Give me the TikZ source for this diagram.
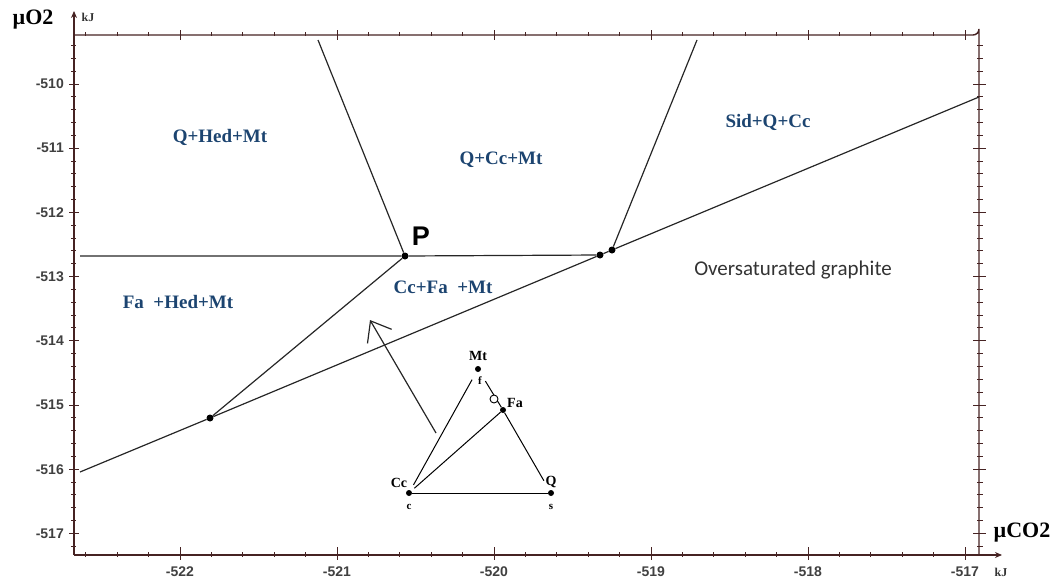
\documentclass[tikz,border=0pt]{standalone}
\usepackage{fontspec}
\setmainfont{Liberation Serif}
\newfontfamily\ticksfont{Liberation Sans}
\newfontfamily\notefont{Carlito}
\usepackage{tikz}
\usetikzlibrary{arrows.meta}
\usetikzlibrary{calc}

\definecolor{framecol}{RGB}{70,35,35}
\definecolor{fieldcol}{RGB}{28,68,112}

\tikzset{
  frameline/.style={line width=1.4pt, framecol},
  tickline/.style={line width=1pt, framecol},
  ticklabel/.style={font=\ticksfont\fontsize{14}{14}\selectfont\bfseries, text=black!75, inner sep=0pt},
  axislabel/.style={font=\fontsize{22}{22}\selectfont\bfseries, inner sep=0pt},
  unitlabel/.style={font=\fontsize{12}{12}\selectfont\bfseries, text=black!80, inner sep=0pt},
  boundary/.style={line width=1.2pt, black!85},
  junction/.style={circle, fill=black, inner sep=0pt, minimum size=7pt},
  fieldlabel/.style={font=\fontsize{19}{19}\selectfont\bfseries, text=fieldcol, inner sep=0pt},
  cornerdot/.style={circle, fill=black, inner sep=0pt, minimum size=6pt},
  cornerlabel/.style={font=\fontsize{14}{14}\selectfont\bfseries, inner sep=0pt},
  sublabel/.style={font=\fontsize{11}{11}\selectfont\bfseries, inner sep=0pt},
}

\begin{document}
\begin{tikzpicture}[x=1pt, y=-1pt]
    \useasboundingbox (0,0) rectangle (1061,581);

    % === Parametri degli assi (pixel) ===
    \def\xzero{180}   % ascissa di -522 kJ
    \def\xstep{157}   % pixel per kJ (muCO2)
    \def\yzero{84}    % ordinata di -510 kJ
    \def\ystep{64.2}  % pixel per kJ (muO2)

    % === 1. Cornice e assi ===
    \draw[frameline, -{Stealth[length=7pt, width=6pt]}] (74,555) -- (74,11);
    \draw[frameline, -{Stealth[length=7pt, width=6pt]}] (74,555) -- (1002,555);
    \draw[frameline] (74,35) -- (973,35) arc (90:0:6) -- (979,555);

    % tacche asse verticale (sinistra e destra)
    \foreach \k in {-3,...,36} {
        \draw[tickline] (71,{\yzero+\k*\ystep/5}) -- (76,{\yzero+\k*\ystep/5});
        \draw[tickline] (977,{\yzero+\k*\ystep/5}) -- (983,{\yzero+\k*\ystep/5});
    }
    \foreach \i in {0,...,7} {
        \pgfmathtruncatemacro{\val}{-510-\i}
        \draw[tickline] (69,{\yzero+\i*\ystep}) -- (79,{\yzero+\i*\ystep});
        \draw[tickline] (973,{\yzero+\i*\ystep}) -- (986,{\yzero+\i*\ystep});
        \node[ticklabel, anchor=east] (yt\i) at (64,{\yzero+\i*\ystep}) {\val};
    }

    % tacche asse orizzontale (sotto e sopra)
    \foreach \k in {-3,...,25} {
        \draw[tickline] ({\xzero+\k*\xstep/5},552) -- ({\xzero+\k*\xstep/5},557);
        \draw[tickline] ({\xzero+\k*\xstep/5},32) -- ({\xzero+\k*\xstep/5},36);
    }
    \foreach \i in {0,...,5} {
        \pgfmathtruncatemacro{\val}{-522+\i}
        \draw[tickline] ({\xzero+\i*\xstep},547) -- ({\xzero+\i*\xstep},560);
        \draw[tickline] ({\xzero+\i*\xstep},30) -- ({\xzero+\i*\xstep},40);
        \node[ticklabel] (xt\i) at ({\xzero+\i*\xstep},572) {\val};
    }

    % etichette degli assi
    \node[axislabel] (muO) at (33,20) {µO2};
    \node[unitlabel] (kJy) at (88,17) {kJ};
    \node[axislabel] (muC) at (1022,533) {µCO2};
    \node[unitlabel] (kJx) at (1001,572) {kJ};

    % === 2. Punti invarianti e linee di equilibrio ===
    \node[junction] (P) at (405,256) {};
    \node[junction] (J1) at (600,255) {};
    \node[junction] (J2) at (612,250) {};
    \node[junction] (J3) at (210,418) {};
    \coordinate (Ptop) at (318,40);
    \coordinate (Jtop) at (697,40);
    \coordinate (Hleft) at (80,256);
    \coordinate (Dleft) at (80,472);
    \coordinate (Dright) at (979,97);

    \draw[boundary] (Hleft) -- (P) -- (J1);
    \draw[boundary] (Ptop) -- (P) -- (J3);
    \draw[boundary] (Dleft) -- (J3) -- (J1) -- (J2) -- (Dright);
    \draw[boundary] (J2) -- (Jtop);

    \node[font=\fontspec{Liberation Sans}\fontsize{27}{27}\selectfont\bfseries, inner sep=0pt] (Plab) at (421,236) {P};

    % === 3. Campi di stabilita' ===
    \node[fieldlabel] (f1) at (220,137) {Q+Hed+Mt};
    \node[fieldlabel] (f2) at (501,160) {Q+Cc+Mt};
    \node[fieldlabel] (f3) at (768,122) {Sid+Q+Cc};
    \node[fieldlabel] (f4) at (178,302) {Fa\ \ +Hed+Mt};
    \node[fieldlabel] (f5) at (443,287) {Cc+Fa\ \ +Mt};
    \node[font=\notefont\fontsize{21}{21}\selectfont, text=black!80, inner sep=0pt] (f6) at (793,270) {Oversaturated graphite};

    % === 4. Diagramma di composizione ===
    \node[cornerdot] (Mt) at (478,369) {};
    \node[cornerdot] (Fa) at (503,410) {};
    \node[cornerdot] (Cc) at (409,493) {};
    \node[cornerdot] (Q) at (551,493) {};

    \draw[line width=1pt] (Cc) -- (Q);
    \draw[line width=1pt, shorten <=6pt, shorten >=9pt] (Cc) -- (Mt);
    \draw[line width=1pt, shorten <=4pt] (Cc) -- (Fa);
    \draw[line width=1pt, shorten <=11pt] (Mt) -- (Fa);
    \draw[line width=1pt, shorten >=11pt] (Fa) -- (Q);
    % cerchietto sul lato Mt-Fa
    \node[draw, circle, line width=0.9pt, fill=white, inner sep=0pt, minimum size=8pt] (ring) at (494,399) {};

    \node[cornerlabel] (MtLab) at (478,356) {Mt};
    \node[sublabel] (fLab) at (480,381) {f};
    \node[cornerlabel] (FaLab) at (515,403) {Fa};
    \node[cornerlabel] (CcLab) at (399,483) {Cc};
    \node[cornerlabel] (QLab) at (551,482) {Q};
    \node[sublabel] (cLab) at (409,507) {c};
    \node[sublabel] (sLab) at (551,507) {s};

    % freccia di direzione
    \coordinate (Atail) at (436,433);
    \coordinate (Ahead) at (370,320);
    \draw[line width=1.2pt, black!85, -{Straight Barb[length=18pt, width=28pt]}] (Atail) -- (Ahead);

\end{tikzpicture}
\end{document}
